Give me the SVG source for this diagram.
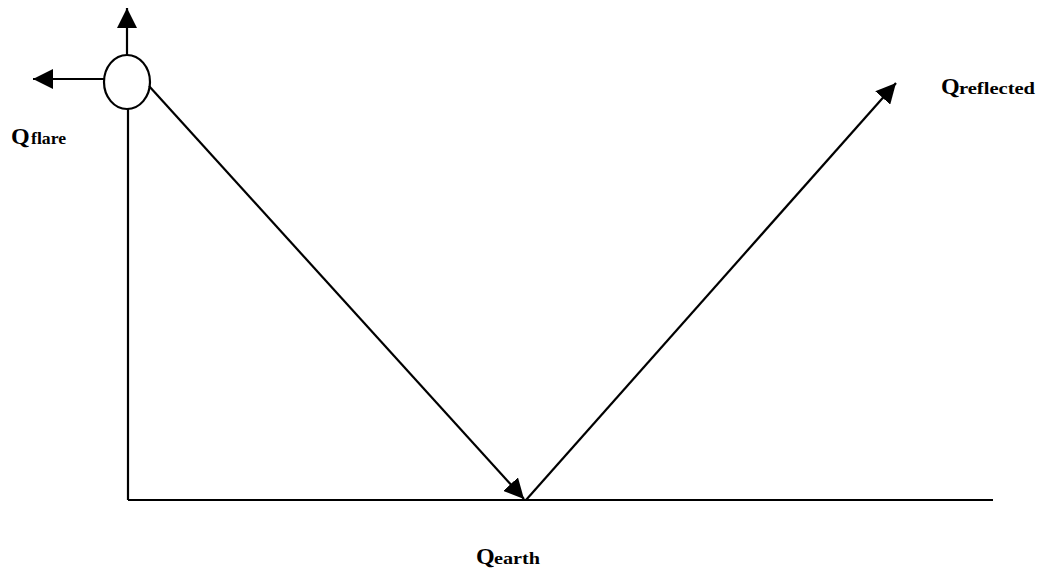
<svg xmlns="http://www.w3.org/2000/svg" width="1042" height="578" viewBox="0 0 1042 578">
<style>
.ln{stroke:#000;stroke-width:2.2;fill:none}
.q{font-family:"Liberation Serif",serif;font-weight:bold;font-size:24px;fill:#000}
.s{font-family:"Liberation Serif",serif;font-weight:bold;font-size:16px;fill:#000}
</style>
<defs>
<marker id="ah" viewBox="0 0 10 10" refX="10" refY="5" markerWidth="20" markerHeight="20" markerUnits="userSpaceOnUse" orient="auto">
<path d="M0,0 L10,5 L0,10 z" fill="#000"/>
</marker>
</defs>
<rect width="1042" height="578" fill="#fff"/>
<g id="connectors">
<line class="ln" x1="127" y1="55" x2="127" y2="8" marker-end="url(#ah)"/>
<line class="ln" x1="104" y1="79" x2="33" y2="79" marker-end="url(#ah)"/>
<line class="ln" x1="128" y1="109" x2="128" y2="500"/>
<line class="ln" x1="128" y1="500" x2="993" y2="500"/>
<line class="ln" x1="149" y1="86" x2="524" y2="499" marker-end="url(#ah)"/>
<line class="ln" x1="526" y1="500" x2="896" y2="83" marker-end="url(#ah)"/>
</g>
<g id="flare">
<ellipse class="ln" cx="127" cy="82" rx="23" ry="27" fill="#fff"/>
</g>
<g id="label-flare">
<text class="q" x="11" y="144">Q</text>
<text class="s" x="31" y="144" textLength="35" lengthAdjust="spacingAndGlyphs">flare</text>
</g>
<g id="label-reflected">
<text class="q" x="941" y="94">Q</text>
<text class="s" x="959" y="94" textLength="76" lengthAdjust="spacingAndGlyphs">reflected</text>
</g>
<g id="label-earth">
<text class="q" x="476" y="564">Q</text>
<text class="s" x="494" y="564" textLength="46" lengthAdjust="spacingAndGlyphs">earth</text>
</g>
</svg>
